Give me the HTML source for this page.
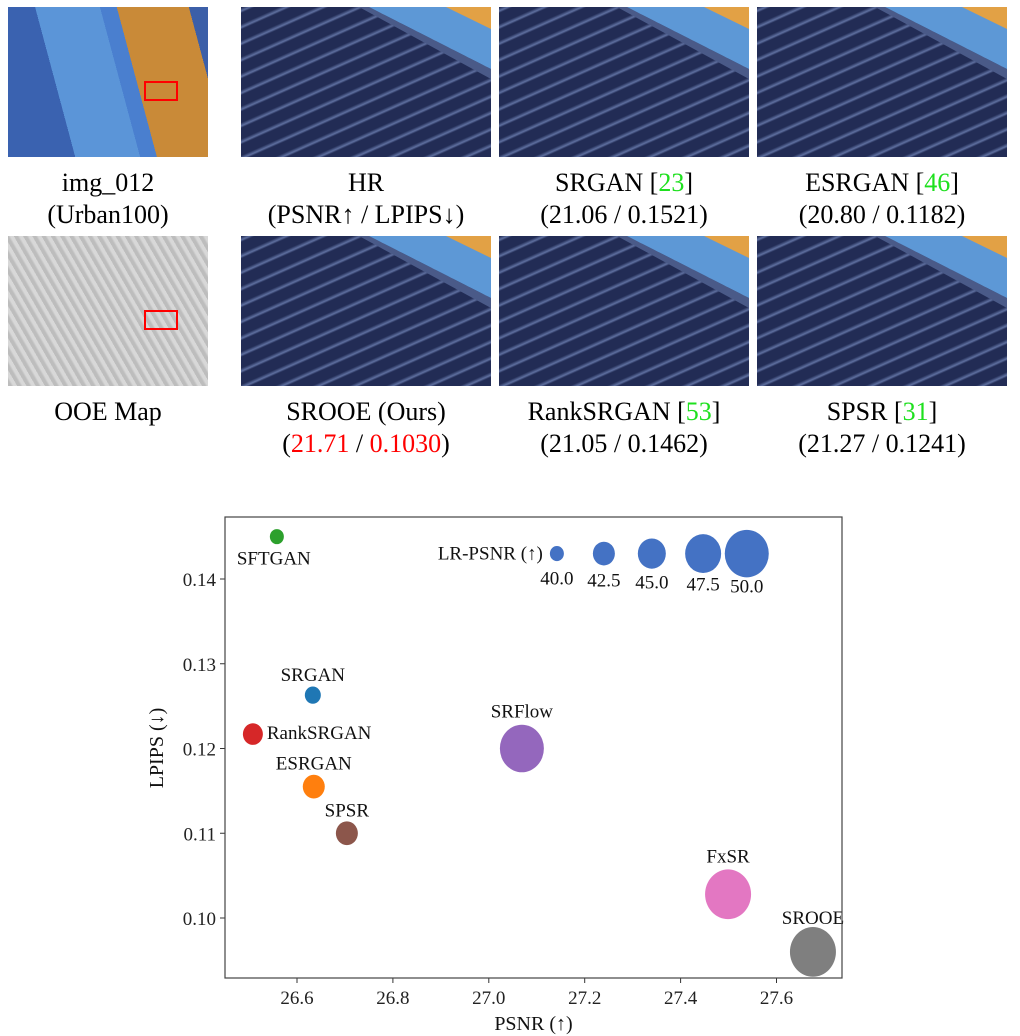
<!DOCTYPE html>
<html><head><meta charset="utf-8"><style>
body{margin:0;background:#fff;width:1020px;height:1036px;position:relative;overflow:hidden;font-family:"Liberation Serif",serif;}
.img{position:absolute;width:250px;height:150px;overflow:hidden}
.patch{background:repeating-linear-gradient(-24deg,#222c55 0 8px,#5f70a0 10px,#222c55 13px 15px),#2d3a68;}
.sky{position:absolute;left:0;top:0;width:250px;height:150px;background:#5d98d6;clip-path:polygon(128px 0,250px 0,250px 62px)}
.edge{position:absolute;left:0;top:0;width:250px;height:150px;background:#4a5a88;clip-path:polygon(118px 0,128px 0,250px 62px,250px 72px)}
.org{position:absolute;left:0;top:0;width:250px;height:150px;background:#e2a145;clip-path:polygon(205px 0,250px 0,250px 22px)}
.cap{position:absolute;width:270px;text-align:center;font-size:26px;line-height:32px;color:#000}
.g{color:#1ee01e}.r{color:#f00}
svg text{font-family:"Liberation Serif",serif}
</style></head><body>
<div class="img" style="left:8px;top:7px;width:200px;background:linear-gradient(75deg,#3a62b0 0 28%,#5b95d8 28% 55%,#4a7fcf 55% 62%,#c98a38 62% 92%,#3c5fa8 92%);">
 <div style="position:absolute;left:136px;top:74px;width:30px;height:16px;border:2px solid #f00"></div></div>
<div class="img" style="left:8px;top:236px;width:200px;background:repeating-linear-gradient(60deg,#bdbdbd 0 3px,#d8d8d8 5px 8px),#c8c8c8;">
 <div style="position:absolute;left:136px;top:74px;width:30px;height:16px;border:2px solid #f00"></div></div>
<div class="img patch" style="left:241px;top:7px"><div class="edge"></div><div class="sky"></div><div class="org"></div></div>
<div class="img patch" style="left:499px;top:7px"><div class="edge"></div><div class="sky"></div><div class="org"></div></div>
<div class="img patch" style="left:757px;top:7px"><div class="edge"></div><div class="sky"></div><div class="org"></div></div>
<div class="img patch" style="left:241px;top:236px"><div class="edge"></div><div class="sky"></div><div class="org"></div></div>
<div class="img patch" style="left:499px;top:236px"><div class="edge"></div><div class="sky"></div><div class="org"></div></div>
<div class="img patch" style="left:757px;top:236px"><div class="edge"></div><div class="sky"></div><div class="org"></div></div>

<div class="cap" style="left:-27px;top:167px">img_012<br>(Urban100)</div>
<div class="cap" style="left:231px;top:167px">HR<br>(PSNR↑ / LPIPS↓)</div>
<div class="cap" style="left:489px;top:167px">SRGAN [<span class="g">23</span>]<br>(21.06 / 0.1521)</div>
<div class="cap" style="left:747px;top:167px">ESRGAN [<span class="g">46</span>]<br>(20.80 / 0.1182)</div>
<div class="cap" style="left:-27px;top:396px">OOE Map</div>
<div class="cap" style="left:231px;top:396px">SROOE (Ours)<br>(<span class="r">21.71</span> / <span class="r">0.1030</span>)</div>
<div class="cap" style="left:489px;top:396px">RankSRGAN [<span class="g">53</span>]<br>(21.05 / 0.1462)</div>
<div class="cap" style="left:747px;top:396px">SPSR [<span class="g">31</span>]<br>(21.27 / 0.1241)</div>

<svg id="chart" width="1020" height="1036" style="position:absolute;left:0;top:0"></svg>
<script>
const names=["SFTGAN","SRGAN","RankSRGAN","ESRGAN","SPSR","SRFlow","FxSR","SROOE"];
const psnr=[26.558,26.633,26.508,26.635,26.704,27.069,27.499,27.676];
const lpips=[0.145,0.1263,0.1217,0.1155,0.110,0.120,0.1028,0.096];
const radii=[7,8,10,11,11,22,23,23];
const colors=["#2ca02c","#1f77b4","#d62728","#ff7f0e","#8c564b","#9467bd","#e377c2","#7f7f7f"];
const legendVals=["40.0","42.5","45.0","47.5","50.0"];
const legendX=[27.142,27.24,27.34,27.447,27.538];
const legendR=[7,11,14,18,22];
const xTicks=[26.6,26.8,27.0,27.2,27.4,27.6];
const yTicks=[0.10,0.11,0.12,0.13,0.14];
const L=225,R=842,T=517,B=978;
const x=v=>297+(v-26.6)*479.5;
const y=v=>918-(v-0.10)*8475;
const svg=document.getElementById('chart');const NS="http://www.w3.org/2000/svg";
function mk(t,a,txt){const e=document.createElementNS(NS,t);for(const k in a)e.setAttribute(k,a[k]);if(txt!==undefined)e.textContent=txt;svg.appendChild(e);return e;}
const defs=mk('defs',{});const cp=document.createElementNS(NS,'clipPath');cp.setAttribute('id','c');
const cr=document.createElementNS(NS,'rect');cr.setAttribute('x',L);cr.setAttribute('y',T);cr.setAttribute('width',R-L);cr.setAttribute('height',B-T);cp.appendChild(cr);defs.appendChild(cp);
xTicks.forEach(v=>{const t=mk('line',{x1:x(v),x2:x(v),y1:B,y2:B+5,stroke:'#333'});

const l=mk('text',{x:x(v),y:B+26,'text-anchor':'middle','font-size':19,fill:'#222'},v.toFixed(1));
});
yTicks.forEach(v=>{const t=mk('line',{x1:L-5,x2:L,y1:y(v),y2:y(v),stroke:'#333'});

const l=mk('text',{x:L-9,y:y(v)+7,'text-anchor':'end','font-size':19,fill:'#222'},v.toFixed(2));
});
const pos={SFTGAN:[-40,28,'start'],SRGAN:[0,-14,'middle'],RankSRGAN:[14,5,'start'],ESRGAN:[0,-17,'middle'],SPSR:[0,-17,'middle'],SRFlow:[0,-31,'middle'],FxSR:[0,-32,'middle'],SROOE:[0,-28,'middle']};
names.forEach((n,i)=>{const c=mk('ellipse',{cx:x(psnr[i]),cy:y(lpips[i]),rx:radii[i],ry:radii[i]*1.08,fill:colors[i],'clip-path':'url(#c)'});

const p=pos[n];const t=mk('text',{x:x(psnr[i])+p[0],y:y(lpips[i])+p[1],'text-anchor':p[2],'font-size':19,fill:'#111'},n);
});
const lt=mk('text',{x:x(legendX[0])-14,y:y(0.143)+6,'text-anchor':'end','font-size':19,fill:'#111'},'LR-PSNR (↑)');

legendVals.forEach((v,i)=>{const c=mk('ellipse',{cx:x(legendX[i]),cy:y(0.143),rx:legendR[i],ry:legendR[i]*1.08,fill:'#4472c4'});

const t=mk('text',{x:x(legendX[i]),y:y(0.143)+31+i*2,'text-anchor':'middle','font-size':19,fill:'#111'},v);
});
const box=mk('rect',{x:L,y:T,width:R-L,height:B-T,fill:'none',stroke:'#444','stroke-width':1.2});

const xt=mk('text',{x:(L+R)/2,y:1030,'text-anchor':'middle','font-size':20,fill:'#111'},'PSNR (↑)');

const yt=mk('text',{x:0,y:0,'text-anchor':'middle','font-size':20,fill:'#111',transform:'translate(163,748) rotate(-90)'},'LPIPS (↓)');

</script>
</body></html>
